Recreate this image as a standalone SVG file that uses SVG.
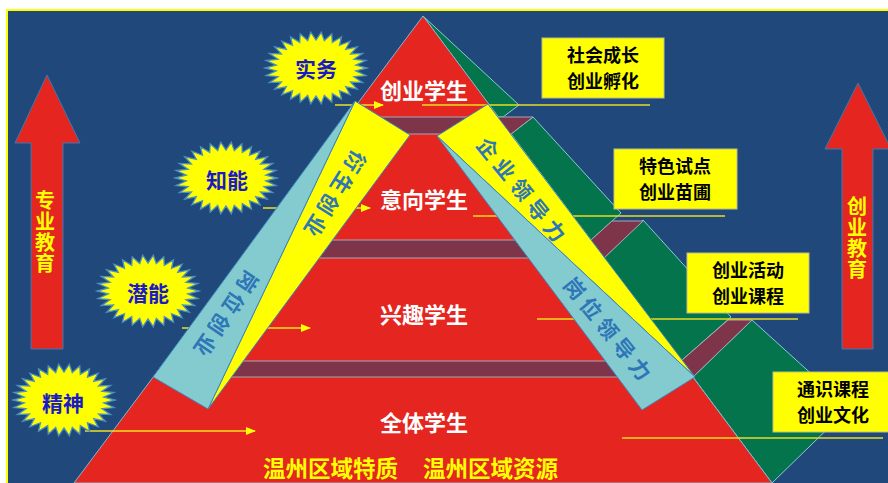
<svg xmlns="http://www.w3.org/2000/svg" width="888" height="483" viewBox="0 0 888 483">
<defs>
<style>
.cjk{font-family:"Noto Sans CJK SC","Noto Sans CJK TC",sans-serif;font-weight:bold}
.green{fill:#03744C;stroke:#8CC8D8;stroke-width:1}
.maroon{fill:#7F3549;stroke:#A3A9BA;stroke-width:1}
.tier{fill:#FFFFFF;font-size:22px}
.band-y{fill:#FFFF00;stroke:#3A87C0;stroke-width:1}
.band-c{fill:#84CBD0;stroke:#3A87C0;stroke-width:1}
.bandtxt{fill:#2E76B7;font-size:21px}
.burst{fill:#FFFF00;stroke:#4A90C0;stroke-width:1.3}
.bursttxt{fill:#1A1AC8;font-size:21px}
.box{fill:#FFFF00;stroke:#BDBD8A;stroke-width:1}
.boxtxt{fill:#000000;font-size:18px}
.hline{stroke:#E8DC20;stroke-width:1.3;fill:none}
.arrow{stroke:#F2E020;stroke-width:1.5;fill:none;marker-end:url(#ah)}
.big{fill:#E42520;stroke:#3A7AB0;stroke-width:1}
.bigtxt{fill:#FFFF00;font-size:20px;writing-mode:vertical-rl}
</style>
<marker id="ah" viewBox="0 0 10 8" refX="9" refY="4" markerWidth="10" markerHeight="8" markerUnits="userSpaceOnUse" orient="auto">
<path d="M0,0 L10,4 L0,8 Z" fill="#FFFF00"/>
</marker>
<polygon id="star" points="51,0 39.8,2.9 49.9,7.5 38,8.7 46.6,14.6 34.6,14 41.3,21.2 29.7,18.7 34.1,26.8 23.5,22.7 25.5,31.2 16.3,25.6 15.8,34.2 8.3,27.4 5.3,35.8 0,28 -5.3,35.8 -8.3,27.4 -15.8,34.2 -16.3,25.6 -25.5,31.2 -23.5,22.7 -34.1,26.8 -29.7,18.7 -41.3,21.2 -34.6,14 -46.6,14.6 -38,8.7 -49.9,7.5 -39.8,2.9 -51,0 -39.8,-2.9 -49.9,-7.5 -38,-8.7 -46.6,-14.6 -34.6,-14 -41.3,-21.2 -29.7,-18.7 -34.1,-26.8 -23.5,-22.7 -25.5,-31.2 -16.3,-25.6 -15.8,-34.2 -8.3,-27.4 -5.3,-35.8 0,-28 5.3,-35.8 8.3,-27.4 15.8,-34.2 16.3,-25.6 25.5,-31.2 23.5,-22.7 34.1,-26.8 29.7,-18.7 41.3,-21.2 34.6,-14 46.6,-14.6 38,-8.7 49.9,-7.5 39.8,-2.9"/>
</defs>

<!-- background -->
<rect x="0" y="0" width="888" height="483" fill="#FFFFFF"/>
<rect x="7" y="10" width="881" height="473" fill="#21487A"/>
<line x1="6" y1="10" x2="888" y2="10" stroke="#FFFF00" stroke-width="2"/>
<line x1="7" y1="10" x2="7" y2="483" stroke="#FFFF00" stroke-width="2"/>

<!-- pyramid -->
<g id="pyramid">
<g id="side-faces">
<polygon class="green" points="423,16 519,105 503,117 498,117"/>
<polygon class="green" points="511,134 533,117 621,213 591,240"/>
<polygon class="green" points="604,258 643,220 731,317 681,361"/>
<polygon class="green" points="693,377 752,320 849,408 772,483"/>
</g>
<polygon id="pyramid-front" points="423,16 772,483 74,483" fill="#E42520" stroke="#7FB8D0" stroke-width="1"/>
<g id="steps">
<polygon class="maroon" points="347.5,117 533,117 511,134 334.9,134"/>
<polygon class="maroon" points="255.7,240 591,240 612,221 643,221 604,258 242.2,258"/>
<polygon class="maroon" points="165.3,361 681,361 728,320 752,320 693,377 153.3,377"/>
</g>
</g>

<!-- connectors -->
<g id="connectors">
<line class="hline" x1="422" y1="105" x2="650" y2="105"/>
<line class="hline" x1="473" y1="216" x2="725" y2="216"/>
<line class="hline" x1="537" y1="319" x2="798" y2="319"/>
<line class="hline" x1="622" y1="438" x2="883" y2="438"/>
<line class="arrow" x1="335" y1="105" x2="383" y2="105"/>
<line class="arrow" x1="263" y1="208" x2="370" y2="208"/>
<line class="arrow" x1="182" y1="328" x2="310" y2="328"/>
<line class="arrow" x1="85" y1="431" x2="255" y2="431"/>
</g>

<!-- left bands -->
<g id="band-left">
<polygon class="band-y" points="355,101 410,135 208,409"/>
<polygon class="band-c" points="355,101 208,409 153,377"/>
<text class="cjk bandtxt" text-anchor="middle" dominant-baseline="central" letter-spacing="4" transform="translate(335,196) rotate(122)">衍生创业</text>
<text class="cjk bandtxt" text-anchor="middle" dominant-baseline="central" letter-spacing="4.5" transform="translate(226,316) rotate(124)">岗位创业</text>
</g>

<!-- right bands -->
<g id="band-right">
<polygon class="band-y" points="437,136 488,104 695,377"/>
<polygon class="band-c" points="437,136 695,377 642,410"/>
<text class="cjk bandtxt" text-anchor="middle" dominant-baseline="central" letter-spacing="5.5" transform="translate(524,191) rotate(51)">企业领导力</text>
<text class="cjk bandtxt" text-anchor="middle" dominant-baseline="central" letter-spacing="5" transform="translate(610,330) rotate(51)">岗位领导力</text>
</g>

<!-- tier labels -->
<g id="tier-labels">
<text class="cjk tier" x="424" y="89" text-anchor="middle" dominant-baseline="central">创业学生</text>
<text class="cjk tier" x="424" y="198" text-anchor="middle" dominant-baseline="central">意向学生</text>
<text class="cjk tier" x="424" y="313" text-anchor="middle" dominant-baseline="central">兴趣学生</text>
<text class="cjk tier" x="424" y="421" text-anchor="middle" dominant-baseline="central">全体学生</text>
</g>

<g id="base-label">
<text class="cjk" x="263" y="467" dominant-baseline="central" fill="#FFFF00" font-size="22.5">温州区域特质</text>
<text class="cjk" x="558" y="467" text-anchor="end" dominant-baseline="central" fill="#FFFF00" font-size="22.5">温州区域资源</text>
</g>

<!-- bursts -->
<g id="burst-shiwu">
<use href="#star" class="burst" transform="translate(316,68)"/>
<text class="cjk bursttxt" x="316" y="68" text-anchor="middle" dominant-baseline="central">实务</text>
</g>
<g id="burst-zhineng">
<use href="#star" class="burst" transform="translate(226,178)"/>
<text class="cjk bursttxt" x="227" y="179" text-anchor="middle" dominant-baseline="central">知能</text>
</g>
<g id="burst-qianneng">
<use href="#star" class="burst" transform="translate(148,291)"/>
<text class="cjk bursttxt" x="148" y="292" text-anchor="middle" dominant-baseline="central">潜能</text>
</g>
<g id="burst-jingshen">
<use href="#star" class="burst" transform="translate(64,400)"/>
<text class="cjk bursttxt" x="63" y="402" text-anchor="middle" dominant-baseline="central">精神</text>
</g>

<!-- boxes -->
<g id="box-1">
<rect class="box" x="542" y="38" width="122" height="60"/>
<text class="cjk boxtxt" x="603" y="54" text-anchor="middle" dominant-baseline="central">社会成长</text>
<text class="cjk boxtxt" x="603" y="80.4" text-anchor="middle" dominant-baseline="central">创业孵化</text>
</g>
<g id="box-2">
<rect class="box" x="614" y="149" width="123" height="60"/>
<text class="cjk boxtxt" x="675" y="165" text-anchor="middle" dominant-baseline="central">特色试点</text>
<text class="cjk boxtxt" x="675" y="191.4" text-anchor="middle" dominant-baseline="central">创业苗圃</text>
</g>
<g id="box-3">
<rect class="box" x="687" y="253" width="122" height="60"/>
<text class="cjk boxtxt" x="748" y="269" text-anchor="middle" dominant-baseline="central">创业活动</text>
<text class="cjk boxtxt" x="748" y="295.4" text-anchor="middle" dominant-baseline="central">创业课程</text>
</g>
<g id="box-4">
<rect class="box" x="773" y="372" width="117" height="60"/>
<text class="cjk boxtxt" x="833" y="388" text-anchor="middle" dominant-baseline="central">通识课程</text>
<text class="cjk boxtxt" x="833" y="414.4" text-anchor="middle" dominant-baseline="central">创业文化</text>
</g>

<!-- big arrows -->
<g id="arrow-left">
<polygon class="big" points="47,75 80,143 63,143 63,349 31,349 31,143 15,143"/>
<text class="cjk bigtxt" x="45" y="232" text-anchor="middle" letter-spacing="1">专业教育</text>
</g>
<g id="arrow-right">
<polygon class="big" points="858,83 891,149 873,149 873,349 842,349 842,149 825,149"/>
<text class="cjk bigtxt" x="857" y="238" text-anchor="middle" letter-spacing="1">创业教育</text>
</g>
</svg>
